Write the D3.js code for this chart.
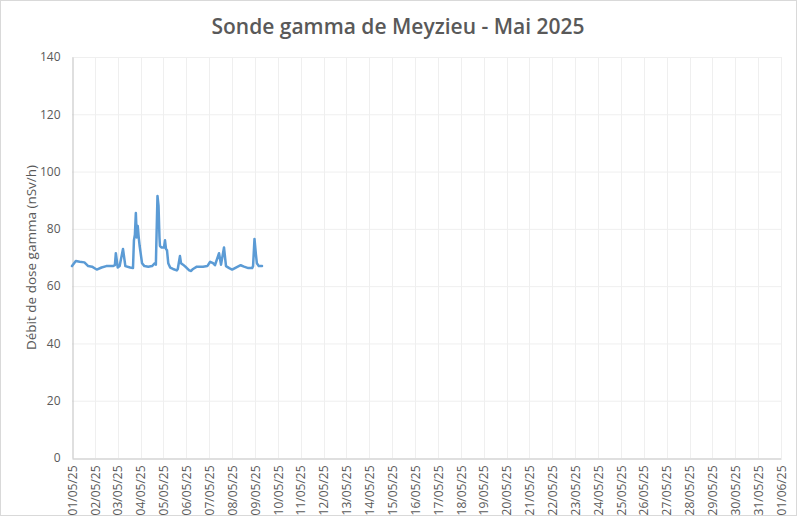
<!DOCTYPE html>
<html><head><meta charset="utf-8">
<script src="https://cdn.jsdelivr.net/npm/d3@7"></script>
<style>body{margin:0;background:#fff}svg{display:block}</style>
</head><body>
<script>
const title = "Sonde gamma de Meyzieu - Mai 2025";
const yTitle = "Débit de dose gamma (nSv/h)";
const yTicks = [0, 20, 40, 60, 80, 100, 120, 140];
// hours since 01/05/2025 00:00
const hours = [0,4,8,13,17,21,25,26,31,36,43,45,46,48,50,53.5,56,61,64,65,66,67,68,69,70,71,73.5,76,80,84,87,88,89.7,90.8,91.8,92.3,94,96.5,97.6,98.6,99.7,101,103,106,110,111,113.3,114.4,116.5,120,123,125,127,131,137.5,142,145,148,150,154.3,156.4,159.5,161.6,165,168,172,177,180.5,185,189,190,191.5,193,194,196,199.4];
const values = [67,68.8,68.5,68.3,67,66.8,66,65.8,66.5,67,67,67.3,71.5,66.5,67,73,67,66.5,66.3,76,78,85.5,77,81,77,74,68,67,66.8,67,68,67.5,91.5,88,77,74,73.5,73.5,76,73,72.5,68,66.5,66,65.5,66,70.5,68,67.5,66.5,65.5,65.3,66,66.8,66.8,67,68.5,68,67.3,71.5,67.5,73.5,67,66.3,65.8,66.5,67.3,66.8,66.3,66.3,67,76.5,71,68,67,67];
const dayLabels = d3.range(0, 32).map(i => {
  const d = new Date(Date.UTC(2025, 4, 1 + i));
  return d3.utcFormat("%d/%m/%y")(d);
});

const W = 797, H = 516;
const m = {left: 72, top: 57, right: 781, bottom: 458};
const svg = d3.select("body").append("svg").attr("width", W).attr("height", H);
svg.append("rect").attr("x",0.5).attr("y",0.5).attr("width",W-1).attr("height",H-1)
  .attr("fill","#fff").attr("stroke","#d9d9d9");

const t0 = Date.UTC(2025,4,1);
const x = d3.scaleUtc().domain([new Date(t0), new Date(Date.UTC(2025,5,1))]).range([m.left, m.right]);
const y = d3.scaleLinear().domain([0,140]).range([m.bottom, m.top]);

const days = d3.range(0,32).map(i => new Date(Date.UTC(2025,4,1+i)));
// gridlines
svg.append("g").selectAll("line").data(yTicks.slice(1)).join("line")
  .attr("x1", m.left).attr("x2", m.right).attr("y1", d=>y(d)+0.5).attr("y2", d=>y(d)+0.5)
  .attr("stroke","#efefef").attr("stroke-width",1);
svg.append("g").selectAll("line").data(days.slice(1)).join("line")
  .attr("x1", d=>Math.round(x(d))+0.5).attr("x2", d=>Math.round(x(d))+0.5).attr("y1", m.top).attr("y2", m.bottom)
  .attr("stroke","#efefef").attr("stroke-width",1);

// y axis
const yAxis = d3.axisLeft(y).tickValues(yTicks).tickSize(0).tickPadding(12);
const gy = svg.append("g").attr("transform",`translate(${m.left+0.5},0)`).call(yAxis);
gy.select(".domain").attr("stroke","#bfbfbf");
gy.selectAll("text").attr("fill","#595959").style("font-family","'Open Sans', 'Liberation Sans', sans-serif").style("font-size","12px");

// x axis
const xAxis = d3.axisBottom(x).tickValues(days).tickFormat((d,i)=>dayLabels[i]).tickSize(0);
const gx = svg.append("g").attr("transform",`translate(0,${m.bottom+0.5})`).call(xAxis);
gx.select(".domain").attr("stroke","#bfbfbf");
gx.selectAll("text").attr("fill","#595959").style("font-family","'Open Sans', 'Liberation Sans', sans-serif").style("font-size","12px")
  .attr("text-anchor","end").attr("transform","rotate(-90)").attr("x",-7).attr("y",0).attr("dy","0.35em");

// line
const data = hours.map((h,i)=>({t:new Date(t0 + h*3600e3), v:values[i]}));
svg.append("path").datum(data)
  .attr("fill","none").attr("stroke","#5b9bd5").attr("stroke-width",2.5).attr("stroke-linejoin","round").attr("stroke-linecap","round")
  .attr("d", d3.line().x(d=>x(d.t)).y(d=>y(d.v)));

// titles
svg.append("text").attr("x", 398).attr("y", 34).attr("text-anchor","middle")
  .attr("fill","#595959").style("font-family","'Open Sans', 'Liberation Sans', sans-serif").style("font-size","21px").style("font-weight","600")
  .text(title);
svg.append("text").attr("transform",`translate(36,${(m.top+m.bottom)/2}) rotate(-90)`).attr("text-anchor","middle")
  .attr("fill","#595959").style("font-family","'Open Sans', 'Liberation Sans', sans-serif").style("font-size","13.5px")
  .text(yTitle);
</script>
</body></html>
